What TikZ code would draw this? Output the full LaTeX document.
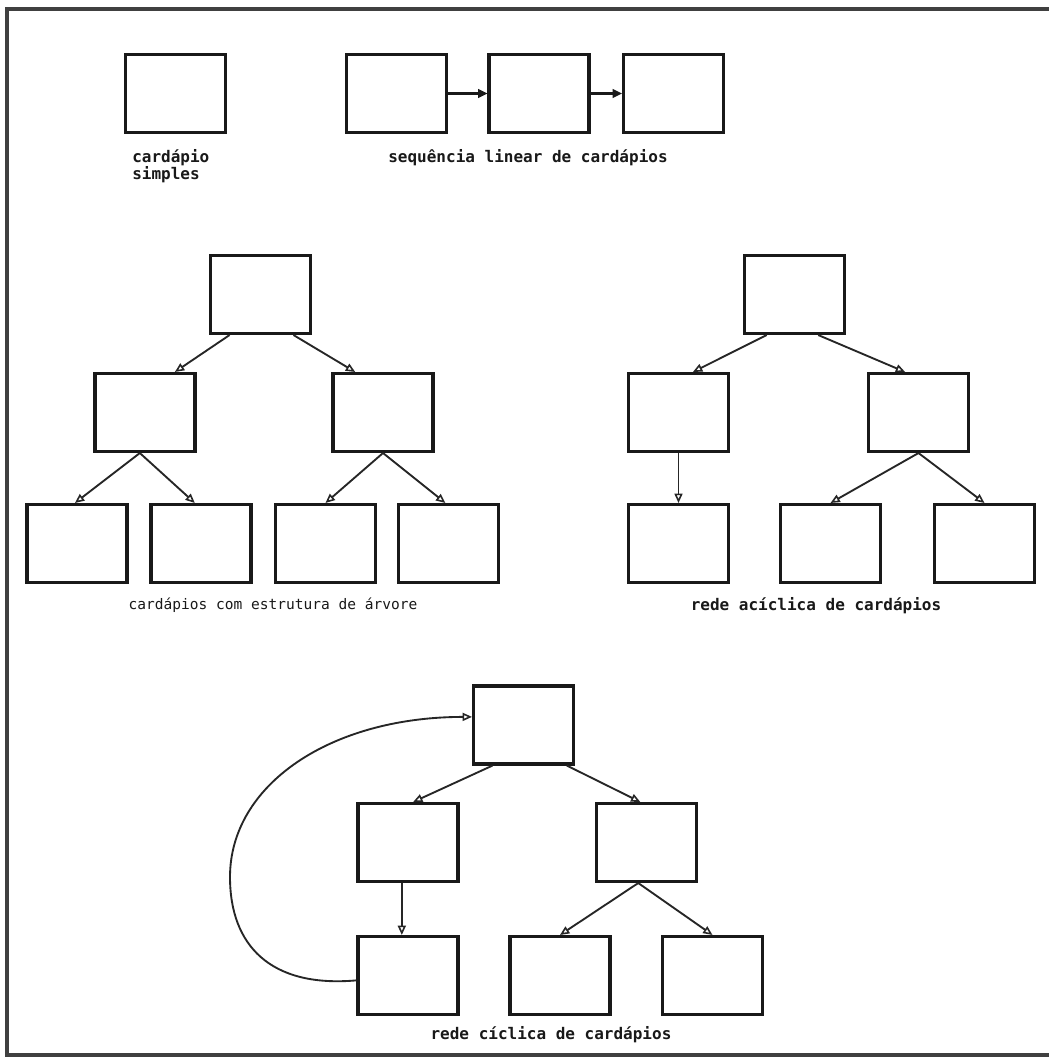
\documentclass[tikz,border=0pt]{standalone}
\usepackage{fontspec}
\setmonofont{DejaVu Sans Mono}
\usetikzlibrary{arrows.meta,calc}
\begin{document}
\begin{tikzpicture}[x=0.75pt,y=-0.75pt,
  card/.style={draw=black!90,line width=2.3pt,minimum width=75pt,minimum height=58.5pt,inner sep=0pt},
  link/.style={draw=black!85,line width=1.4pt,-{Triangle[open,length=7pt,width=6pt,line width=1.2pt]}},
  push/.style={draw=black!90,line width=1.6pt,-{Triangle[length=7pt,width=6.5pt]}},
  caption/.style={font=\ttfamily\bfseries\fontsize{12}{9.8}\selectfont,inner sep=0pt,text=black!90},
  frame/.style={draw=black!75,line width=2.6pt}]

\fill[white] (0,0) rectangle (1049,1060);
\useasboundingbox (0,0) rectangle (1049,1060);

% page frame (top, left and bottom edges)
\draw[frame] (1049,9) -- (7,9) -- (7,1055) -- (1049,1055);

% --- simple menu and linear sequence
\node[card] (simple) at (175.5,93.5) {};
\node[caption,align=left,anchor=north west] (simpleLbl) at (132,149) {cardápio\\simples};

\node[card] (s1) at (396.5,93.5) {};
\node[card] (s2) at (539,93.5) {};
\node[card] (s3) at (673.5,93.5) {};
\draw[push] (s1) -- (s2);
\draw[push] (s2) -- (s3);
\node[caption] (seqLbl) at (528,158) {sequência linear de cardápios};

% --- tree of menus
\node[card] (t0) at (260.5,294.5) {};
\node[card] (t1) at (145,412.5) {};
\node[card] (t2) at (383,412.5) {};
\node[card] (t11) at (77,543.5) {};
\node[card] (t12) at (201,543.5) {};
\node[card] (t21) at (325.5,543.5) {};
\node[card] (t22) at (448.5,543.5) {};
\draw[link] ($(t0.south west)!0.2!(t0.south east)$) -- ($(t1.north west)!0.79!(t1.north east)$);
\draw[link] ($(t0.south west)!0.82!(t0.south east)$) -- ($(t2.north west)!0.23!(t2.north east)$);
\draw[link] ($(t1.south west)!0.45!(t1.south east)$) -- ($(t11.north west)!0.48!(t11.north east)$);
\draw[link] ($(t1.south west)!0.45!(t1.south east)$) -- ($(t12.north west)!0.44!(t12.north east)$);
\draw[link] (t2.south) -- (t21.north);
\draw[link] (t2.south) -- ($(t22.north west)!0.47!(t22.north east)$);
\node[caption,font=\ttfamily\fontsize{10.9}{10}\selectfont] (treeLbl) at (273,605) {cardápios com estrutura de árvore};

% --- acyclic network
\node[card] (a0) at (794.5,294.5) {};
\node[card] (a1) at (678.5,412.5) {};
\node[card] (a2) at (918.5,412.5) {};
\node[card] (a11) at (678.5,543.5) {};
\node[card] (a21) at (830.5,543.5) {};
\node[card] (a22) at (984.5,543.5) {};
\draw[link] ($(a0.south west)!0.23!(a0.south east)$) -- ($(a1.north west)!0.64!(a1.north east)$);
\draw[link] ($(a0.south west)!0.73!(a0.south east)$) -- ($(a2.north west)!0.37!(a2.north east)$);
\draw[link] (a1.south) -- (a11.north);
\draw[link] (a2.south) -- (a21.north);
\draw[link] (a2.south) -- (a22.north);
\node[caption] (acyLbl) at (816,606) {rede acíclica de cardápios};

% --- cyclic network
\node[card] (c0) at (523.5,725) {};
\node[card] (c1) at (408,842.5) {};
\node[card] (c2) at (646.5,842.5) {};
\node[card] (c11) at (408,975.5) {};
\node[card] (c21) at (560,975.5) {};
\node[card] (c22) at (712.5,975.5) {};
\draw[link] ($(c0.south west)!0.2!(c0.south east)$) -- ($(c1.north west)!0.55!(c1.north east)$);
\draw[link] ($(c0.south west)!0.92!(c0.south east)$) -- ($(c2.north west)!0.44!(c2.north east)$);
\draw[link] ($(c1.south west)!0.44!(c1.south east)$) -- ($(c11.north west)!0.44!(c11.north east)$);
\draw[link] ($(c2.south west)!0.42!(c2.south east)$) -- (c21.north);
\draw[link] ($(c2.south west)!0.42!(c2.south east)$) -- (c22.north);
\coordinate (loopW) at (230,877);
\draw[link] ($(c11.north west)!0.56!(c11.south west)$)
  .. controls (270,988) and (230,945) .. (loopW)
  .. controls (230,785) and (330,717) .. ($(c0.north west)!0.4!(c0.south west)$);
\node[caption] (cycLbl) at (551,1035) {rede cíclica de cardápios};
\end{tikzpicture}
\end{document}
